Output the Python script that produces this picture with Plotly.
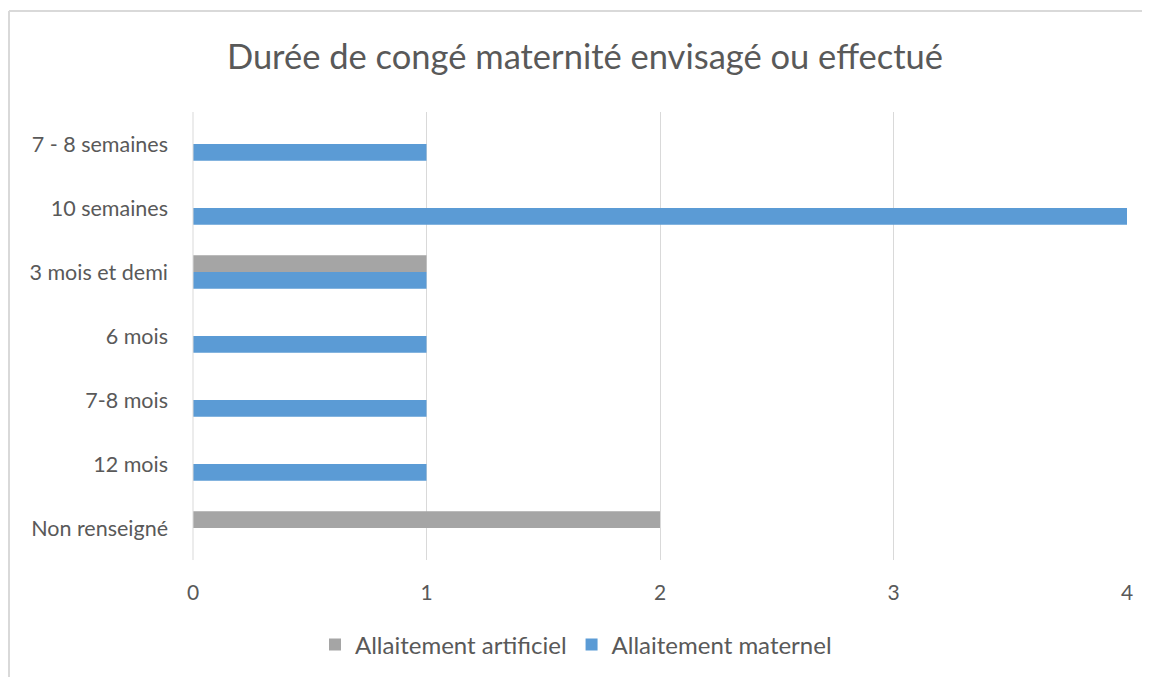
import plotly.graph_objects as go

categories = ["Non renseigné", "12 mois", "7-8 mois", "6 mois", "3 mois et demi", "10 semaines", "7 - 8 semaines"]
artificiel = [2, 0, 0, 0, 1, 0, 0]
maternel = [0, 1, 1, 1, 1, 4, 1]
x_ticks = [0, 1, 2, 3, 4]

FONT = "Lato"
TXT = "#595959"

W, H = 1150, 677
L, T = 185, 104
PW, PH = 934, 448
B = H - T - PH
R = W - L - PW

def px(x):
    return (x - L) / PW

def py(y):
    return (T + PH - y) / PH

fig = go.Figure()
fig.add_trace(go.Bar(y=categories, x=maternel, orientation="h", name="Allaitement maternel",
                     marker=dict(color="#5B9BD5", line=dict(width=0)), legendrank=2))
fig.add_trace(go.Bar(y=categories, x=artificiel, orientation="h", name="Allaitement artificiel",
                     marker=dict(color="#A5A5A5", line=dict(width=0)), legendrank=1))

fig.update_layout(
    width=W, height=H,
    paper_bgcolor="white", plot_bgcolor="white",
    margin=dict(l=L, r=R, t=T, b=B),
    barmode="group", bargap=0.48, bargroupgap=0,
    font=dict(family=FONT, color=TXT, size=21),
    title=dict(text="Durée de congé maternité envisagé ou effectué",
               x=577 / W, xref="container", xanchor="center",
               y=1 - 49 / H, yref="container", yanchor="middle",
               font=dict(family=FONT, size=34.5, color=TXT)),
    xaxis=dict(range=[0, 4], tickvals=x_ticks, showgrid=True, gridcolor="#D9D9D9", gridwidth=1,
               zeroline=False, showline=False, ticks="", tickfont=dict(size=21, color=TXT),
               ticklabelstandoff=18),
    yaxis=dict(categoryorder="array", categoryarray=categories, showgrid=False, zeroline=False,
               showline=False, ticks="", tickfont=dict(size=21.5, color=TXT), ticklabelstandoff=24),
    legend=dict(orientation="h", x=568 / W, xref="container", xanchor="center",
                y=1 - 637 / H, yref="container", yanchor="middle",
                font=dict(size=24, color=TXT), itemwidth=30, traceorder="normal"),
    showlegend=True,
    shapes=[
        dict(type="line", xref="paper", yref="paper", x0=0, x1=0, y0=0, y1=1,
             line=dict(color="#D9D9D9", width=1)),
        dict(type="line", xref="paper", yref="paper",
             x0=px(1), x1=px(W), y0=py(3), y1=py(3),
             line=dict(color="#D9D9D9", width=2)),
        dict(type="line", xref="paper", yref="paper",
             x0=px(1), x1=px(1), y0=py(3), y1=py(H),
             line=dict(color="#D9D9D9", width=2)),
    ],
)

fig.write_html("out.html")
